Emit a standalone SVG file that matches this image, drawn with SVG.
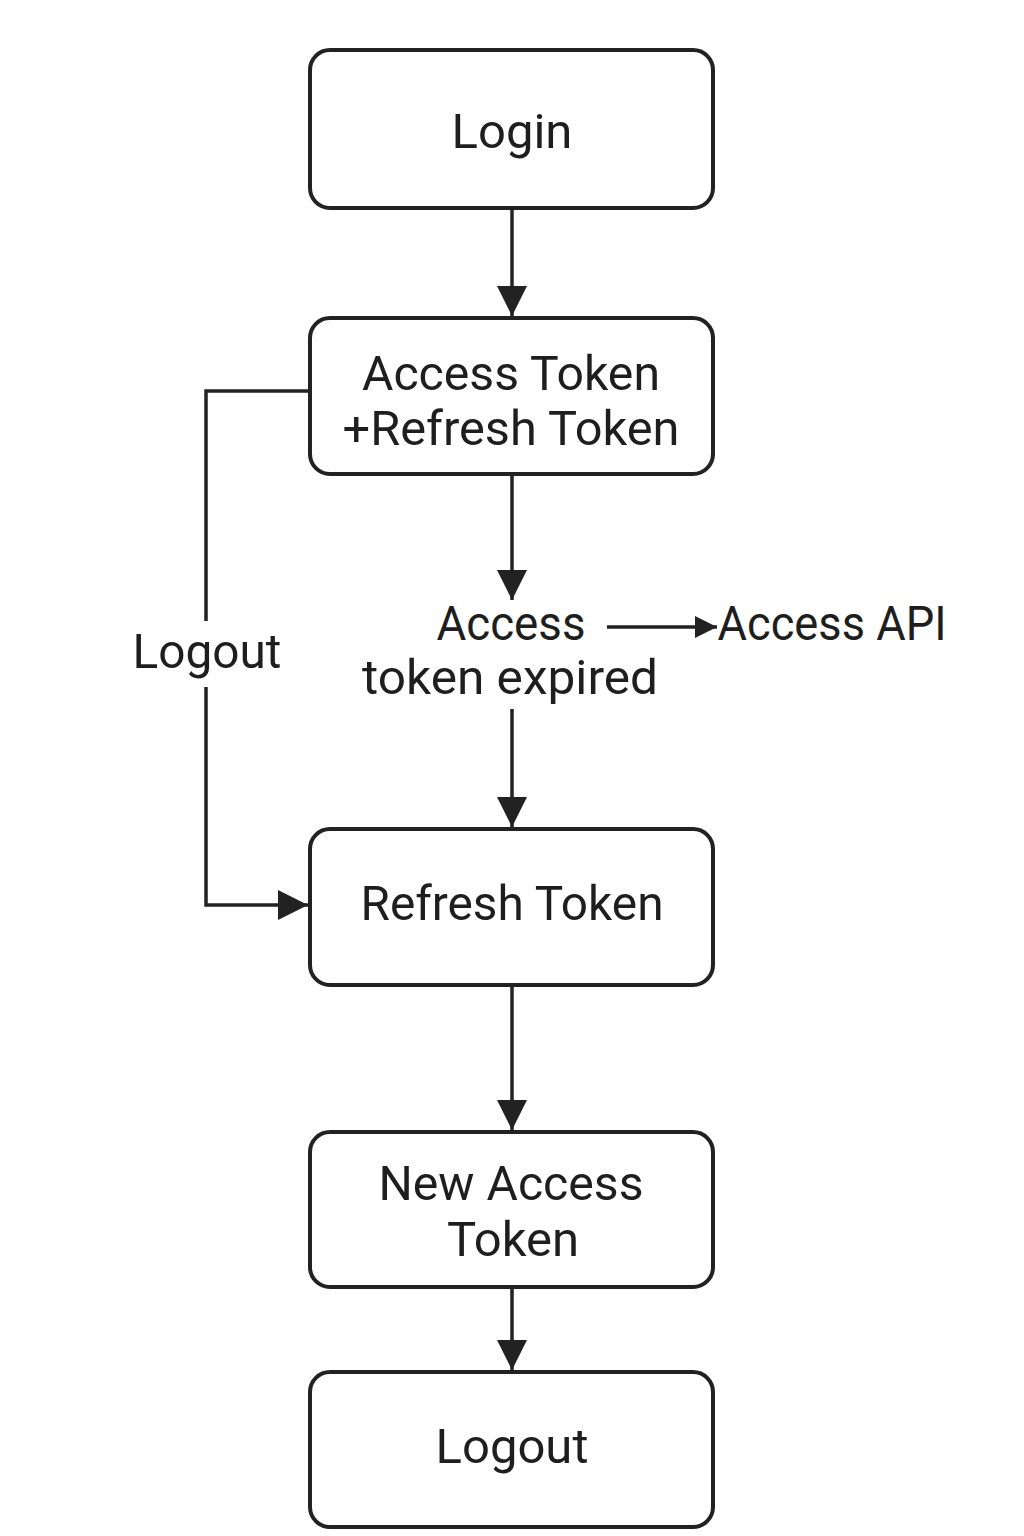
<svg xmlns="http://www.w3.org/2000/svg" width="1024" height="1536" viewBox="0 0 1024 1536">
<style>
.box{fill:#fff;stroke:#222;stroke-width:4}
.t{font-family:Roboto,"Liberation Sans",sans-serif;font-size:49px;fill:#1e1e1e;text-anchor:middle}
.c{fill:none;stroke:#222;stroke-width:3.5}
</style>
<defs>
<marker id="ah" markerUnits="userSpaceOnUse" markerWidth="32" markerHeight="32" refX="30" refY="15" orient="auto">
<path d="M0,0 L30,15 L0,30 Z" fill="#222"/>
</marker>
<marker id="as" markerUnits="userSpaceOnUse" markerWidth="24" markerHeight="24" refX="22" refY="11" orient="auto">
<path d="M0,0 L22,11 L0,22 Z" fill="#222"/>
</marker>
</defs>
<rect width="1024" height="1536" fill="#fff"/>
<g id="connectors">
<line class="c" x1="512" y1="208" x2="512" y2="316" marker-end="url(#ah)"/>
<line class="c" x1="512" y1="474" x2="512" y2="600" marker-end="url(#ah)"/>
<line class="c" x1="512" y1="709" x2="512" y2="827" marker-end="url(#ah)"/>
<line class="c" x1="512" y1="985" x2="512" y2="1130" marker-end="url(#ah)"/>
<line class="c" x1="512" y1="1287" x2="512" y2="1370" marker-end="url(#ah)"/>
<line class="c" x1="607" y1="627" x2="717" y2="627" marker-end="url(#as)"/>
<polyline class="c" points="310,391 206,391 206,621"/>
<polyline class="c" points="206,687 206,905 308,905" marker-end="url(#ah)"/>
<text class="t" x="207" y="668" textLength="149" lengthAdjust="spacingAndGlyphs">Logout</text>
</g>
<g id="login">
<rect class="box" x="310" y="50" width="403" height="158" rx="20"/>
<text class="t" x="512" y="148">Login</text>
</g>
<g id="tokens">
<rect class="box" x="310" y="318" width="403" height="156" rx="20"/>
<text class="t" x="511" y="390" textLength="298" lengthAdjust="spacingAndGlyphs">Access Token</text>
<text class="t" x="511" y="445" textLength="337" lengthAdjust="spacingAndGlyphs">+Refresh Token</text>
</g>
<g id="expired">
<text class="t" x="511" y="640" textLength="149" lengthAdjust="spacingAndGlyphs">Access</text>
<text class="t" x="510" y="694" textLength="296" lengthAdjust="spacingAndGlyphs">token expired</text>
</g>
<g id="api">
<text class="t" x="832" y="640" textLength="229" lengthAdjust="spacingAndGlyphs">Access API</text>
</g>
<g id="refresh">
<rect class="box" x="310" y="829" width="403" height="156" rx="20"/>
<text class="t" x="512" y="920" textLength="303" lengthAdjust="spacingAndGlyphs">Refresh Token</text>
</g>
<g id="newaccess">
<rect class="box" x="310" y="1132" width="403" height="155" rx="20"/>
<text class="t" x="511" y="1200" textLength="265" lengthAdjust="spacingAndGlyphs">New Access</text>
<text class="t" x="513" y="1256">Token</text>
</g>
<g id="logout">
<rect class="box" x="310" y="1372" width="403" height="155" rx="20"/>
<text class="t" x="512" y="1463">Logout</text>
</g>
</svg>
